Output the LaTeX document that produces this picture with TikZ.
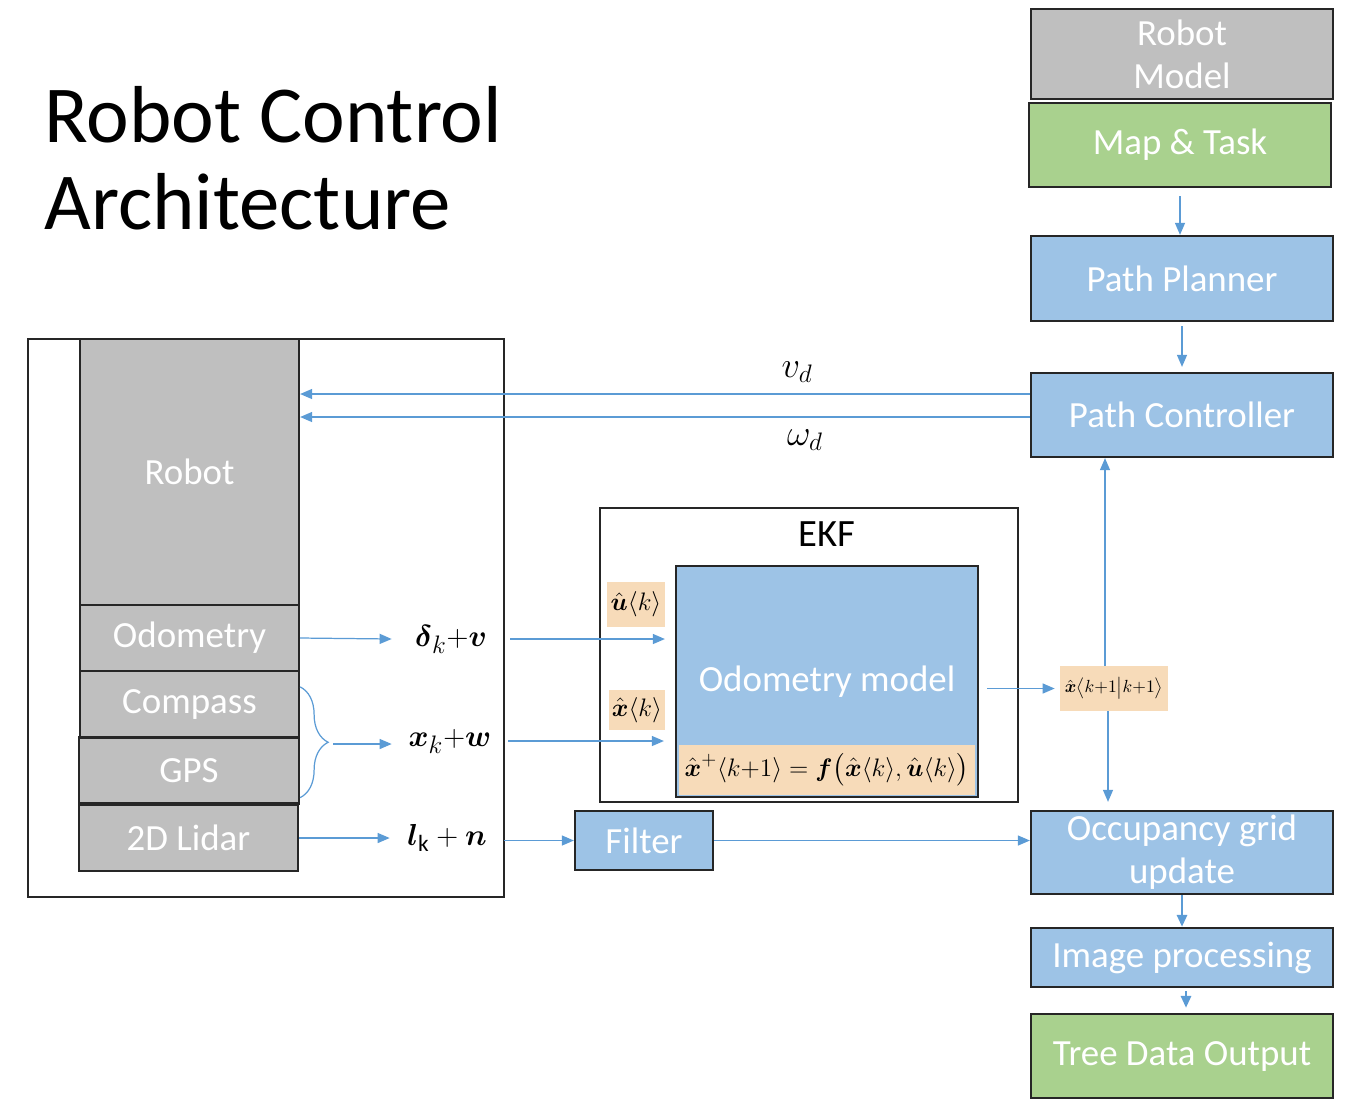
\documentclass[tikz,border=0pt]{standalone}
\usepackage{amsmath,amssymb}
\usepackage{fontspec}
\setmainfont{Carlito}
\usepackage{tikz}
\usetikzlibrary{arrows.meta,calc,positioning,decorations.pathreplacing}
\definecolor{BoxBlue}{RGB}{157,195,230}
\definecolor{BoxGreen}{RGB}{169,209,142}
\definecolor{BoxGray}{RGB}{191,191,191}
\definecolor{SoftPeach}{RGB}{247,219,185}
\definecolor{FlowBlue}{RGB}{91,155,213}
\definecolor{EdgeDark}{RGB}{38,38,38}

\begin{document}
\begin{tikzpicture}[x=0.02cm,y=-0.02cm,
  blk/.style={draw=EdgeDark,line width=1.3pt,inner sep=0pt,text=white,align=center,
    font=\fontsize{21}{24.5}\selectfont,minimum width=6.04cm},
  part/.style={blk,fill=BoxGray,minimum width=4.38cm,minimum height=1.32cm},
  sym/.style={fill=SoftPeach,inner sep=0pt,font=\fontsize{15.5}{16}\selectfont},
  lbl/.style={inner sep=0pt,font=\fontsize{19}{20}\selectfont},
  flow/.style={draw=FlowBlue,line width=0.7pt,-{Triangle[length=0.24cm,width=0.2cm]}},
  bigflow/.style={flow,line width=1.6pt}]
\useasboundingbox (0,0) rectangle (1348,1107);

% title
\node[anchor=north west,align=left,inner sep=0pt,font=\fontsize{46}{49.5}\selectfont] (title) at (44,86) {Robot Control\\Architecture};

% planning column
\node[blk,fill=BoxGray,minimum height=1.8cm] (rmodel) at (1182,54) {Robot\\Model};
\node[blk,fill=BoxGreen,minimum height=1.68cm] (map) at (1180,145) {Map \& Task};
\node[blk,fill=BoxBlue,minimum height=1.7cm] (plan) at (1182,278.5) {Path Planner};
\node[blk,fill=BoxBlue,minimum height=1.68cm] (ctrl) at (1182,415) {Path Controller};
\node[blk,fill=BoxBlue,minimum height=1.66cm] (occ) at (1182,852.5) {Occupancy grid\\update};
\node[blk,fill=BoxBlue,minimum height=1.18cm] (img) at (1182,957.5) {Image processing};
\node[blk,fill=BoxGreen,minimum height=1.68cm] (tree) at (1182,1056) {Tree Data Output};

% robot and its sensors
\node[draw=EdgeDark,line width=1.3pt,minimum width=9.52cm,minimum height=11.16cm] (frame) at (266,618) {};
\node[part,minimum height=5.32cm] (robot) at (189.5,472) {Robot};
\node[part] (odo) at (189.5,638) {Odometry};
\node[part] (comp) at (189.5,704) {Compass};
\node[part,minimum width=4.4cm] (gps) at (189,770.5) {GPS};
\node[part] (lidar) at (188.5,838) {2D Lidar};

% EKF
\node[draw=EdgeDark,line width=1.3pt,minimum width=8.36cm,minimum height=5.88cm] (ekf) at (809,655) {};
\node[font=\fontsize{22}{24}\selectfont] (ekftxt) at (827,534) {EKF};
\node[blk,fill=BoxBlue,minimum height=4.62cm] (odom) at (827,681.5) {Odometry model};
\node[sym,minimum width=5.92cm,minimum height=1cm] (fx) at (827,770)
  {$\hat{\boldsymbol{x}}^{+}\langle k{+}1\rangle=\boldsymbol{f}\big(\hat{\boldsymbol{x}}\langle k\rangle,\hat{\boldsymbol{u}}\langle k\rangle\big)$};
\node[sym,minimum width=1.16cm,minimum height=0.9cm] (uk) at (636,604.5) {$\hat{\boldsymbol{u}}\langle k\rangle$};
\node[sym,minimum width=1.12cm,minimum height=0.8cm] (xk) at (637,710) {$\hat{\boldsymbol{x}}\langle k\rangle$};
\node[sym,minimum width=2.16cm,minimum height=0.9cm,font=\fontsize{10}{11}\selectfont] (xkk) at (1114,688.5)
  {$\hat{\boldsymbol{x}}\big\langle k{+}1\big|k{+}1\big\rangle$};
\node[blk,fill=BoxBlue,minimum width=2.76cm,minimum height=1.18cm] (filt) at (644,840.5) {Filter};

% signal labels
\node[lbl,minimum width=2.36cm] (dv) at (451,639) {$\boldsymbol{\delta}_k{+}\boldsymbol{v}$};
\node[lbl,minimum width=2.32cm] (xw) at (450,741) {$\boldsymbol{x}_k{+}\boldsymbol{w}$};
\node[lbl,minimum width=2.28cm] (ln) at (447,838) {$\boldsymbol{l}_{\mathrm{k}}+\boldsymbol{n}$};
\node[lbl,font=\fontsize{20}{22}\selectfont] (vd) at (797,372) {$v_d$};
\node[lbl,font=\fontsize{20}{22}\selectfont] (wd) at (805,440) {$\omega_d$};
\coordinate (bt) at (333,744);

% connectors
\draw[flow,shorten <=0.16cm] (map.south) -- (map.south |- plan.north);
\draw[flow,shorten <=0.08cm,shorten >=0.1cm] (plan.south) -- (ctrl.north);
\draw[flow] ([yshift=0.42cm]ctrl.west) -- ([yshift=0.42cm]ctrl.west -| robot.east);
\draw[flow] ([yshift=-0.04cm]ctrl.west) -- ([yshift=-0.04cm]ctrl.west -| robot.east);
\draw[flow] (odo.east) -- (dv.west);
\draw[flow,shorten >=0.2cm] (dv.east) -- (dv.east -| odom.west);
\draw[decorate,decoration={brace,amplitude=0.56cm},draw=FlowBlue,line width=0.7pt]
  ([yshift=-0.34cm]comp.north east) -- ([yshift=0.14cm]gps.south east);
\draw[flow] (bt) -- (bt -| xw.west);
\draw[flow,shorten >=0.22cm] (xw.east) -- (xw.east -| odom.west);
\draw[flow] (lidar.east) -- (ln.west);
\draw[flow] (ln.east |- filt.west) -- (filt.west);
\draw[flow] (filt.east) -- (filt.east -| occ.west);
\draw[flow,shorten <=0.16cm,shorten >=0.1cm] (odom.east |- xkk.west) -- (xkk.west);
\draw[flow] ([xshift=-0.18cm]xkk.north) -- ([xshift=-0.18cm]xkk.north |- ctrl.south);
\draw[flow,shorten >=0.16cm] ([xshift=-0.12cm]xkk.south) -- ([xshift=-0.12cm]xkk.south |- occ.north);
\draw[bigflow] (occ.south) -- (img.north);
\draw[bigflow,shorten <=0.06cm,shorten >=0.1cm] ([xshift=0.08cm]img.south) -- ([xshift=0.08cm]tree.north);
\end{tikzpicture}
\end{document}
